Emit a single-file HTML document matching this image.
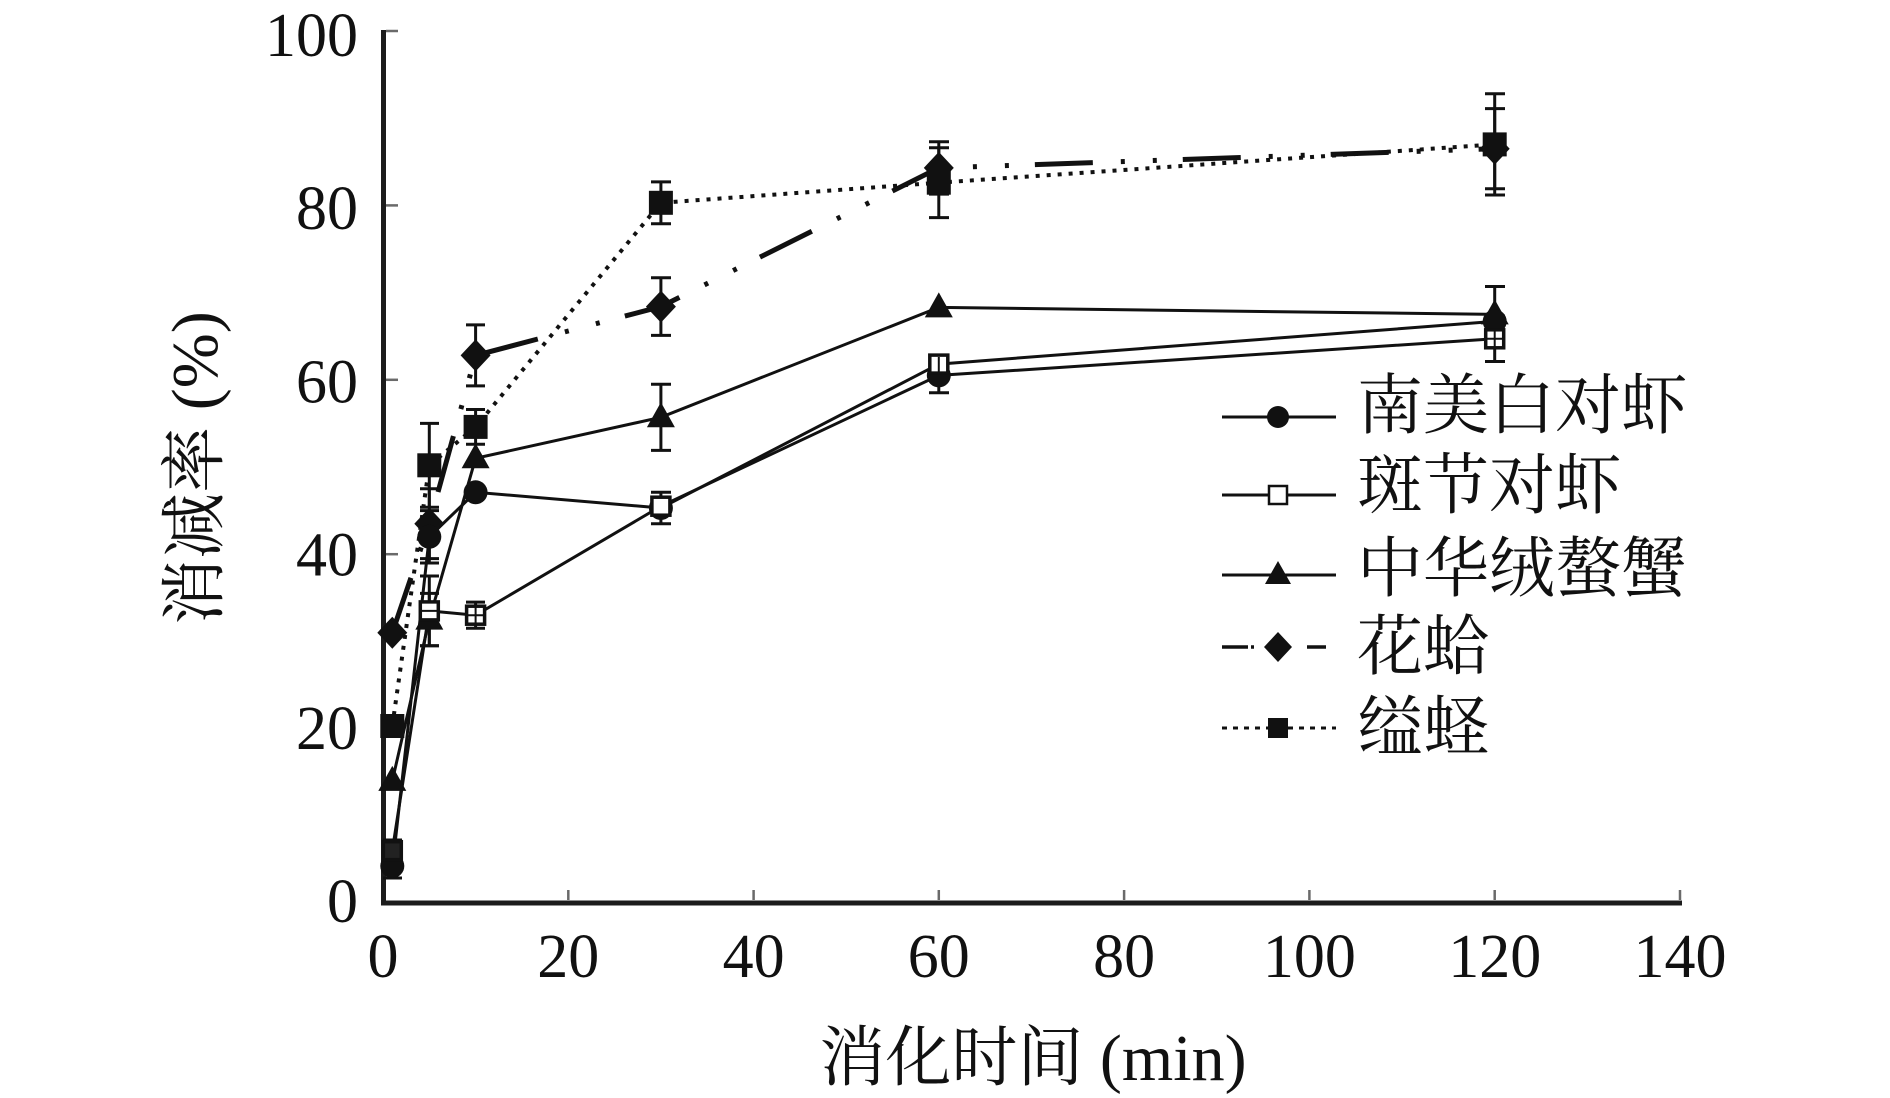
<!DOCTYPE html>
<html>
<head>
<meta charset="utf-8">
<style>
  html, body { margin: 0; padding: 0; background: #fff; }
  svg { display: block; }
  .tk { font-family: "Liberation Serif", "Noto Serif CJK SC", serif; font-size: 62px; fill: #111; }
  .cj { font-family: "Liberation Serif", "Noto Serif CJK SC", serif; font-size: 66px; fill: #111; }
</style>
</head>
<body>
<svg width="1890" height="1098" viewBox="0 0 1890 1098" xmlns="http://www.w3.org/2000/svg">
  <rect x="0" y="0" width="1890" height="1098" fill="#fff"/>

  <!-- ticks -->
  <g stroke="#6a6a6a" stroke-width="2.5">
    <line x1="386" y1="728.6" x2="398" y2="728.6"/>
    <line x1="386" y1="554.2" x2="398" y2="554.2"/>
    <line x1="386" y1="379.8" x2="398" y2="379.8"/>
    <line x1="386" y1="205.4" x2="398" y2="205.4"/>
    <line x1="386" y1="31" x2="398" y2="31"/>
    <line x1="568.3" y1="900" x2="568.3" y2="890"/>
    <line x1="753.6" y1="900" x2="753.6" y2="890"/>
    <line x1="938.8" y1="900" x2="938.8" y2="890"/>
    <line x1="1124.1" y1="900" x2="1124.1" y2="890"/>
    <line x1="1309.4" y1="900" x2="1309.4" y2="890"/>
    <line x1="1494.7" y1="900" x2="1494.7" y2="890"/>
    <line x1="1680" y1="900" x2="1680" y2="890"/>
  </g>
  <!-- axes -->
  <g stroke="#1c1c1c" stroke-width="5" fill="none">
    <line x1="383.5" y1="30" x2="383.5" y2="905"/>
    <line x1="381" y1="903" x2="1682" y2="903"/>
  </g>

  <!-- y tick labels -->
  <g class="tk" text-anchor="end">
    <text x="358" y="922">0</text>
    <text x="358" y="748.8">20</text>
    <text x="358" y="575.6">40</text>
    <text x="358" y="402.4">60</text>
    <text x="358" y="229.2">80</text>
    <text x="358" y="56">100</text>
  </g>
  <!-- x tick labels -->
  <g class="tk" text-anchor="middle">
    <text x="383" y="977">0</text>
    <text x="568.3" y="977">20</text>
    <text x="753.6" y="977">40</text>
    <text x="938.8" y="977">60</text>
    <text x="1124.1" y="977">80</text>
    <text x="1309.4" y="977">100</text>
    <text x="1494.7" y="977">120</text>
    <text x="1680" y="977">140</text>
  </g>

  <!-- axis titles -->
  <text class="cj" x="1033" y="1080" text-anchor="middle">消化时间 (min)</text>
  <text class="cj" transform="translate(217,468) rotate(-90)" text-anchor="middle">消减率 (%)</text>

  <!-- error bars -->
  <g stroke="#111" stroke-width="3" fill="none">
    <!-- S5 缢蛏 -->
    <path d="M429.3 423.4V507.2M420 423.4h19M420 507.2h19"/>
    <path d="M475.6 409.5V444.3M466 409.5h19M466 444.3h19"/>
    <path d="M660.9 181.9V223.7M651 181.9h20M651 223.7h20"/>
    <path d="M938.8 147.8V217.6M929 147.8h20M929 217.6h20"/>
    <path d="M1494.7 93.8V195M1485 93.8h20M1485 195h20"/>
    <!-- S4 花蛤 -->
    <path d="M429.3 488.8V558.6M420 488.8h19M420 558.6h19"/>
    <path d="M475.6 324.9V385.9M466 324.9h19M466 385.9h19"/>
    <path d="M660.9 277.8V335.4M651 277.8h20M651 335.4h20"/>
    <path d="M938.8 141.7V194.1M929 141.7h20M929 194.1h20"/>
    <path d="M1494.7 108.6V188.8M1485 108.6h20M1485 188.8h20"/>
    <!-- S3 -->
    <path d="M429.3 593.4V645.8M420 593.4h19M420 645.8h19"/>
    <path d="M660.9 384.2V450.4M651 384.2h20M651 450.4h20"/>
    <path d="M1494.7 286.5V342.3M1485 286.5h20M1485 342.3h20"/>
    <!-- S2 -->
    <path d="M429.3 576V645.8M420 576h19M420 645.8h19"/>
    <path d="M475.6 602.1V628.3M466 602.1h19M466 628.3h19"/>
    <path d="M938.8 358V392.8M929 358h20M929 392.8h20"/>
    <path d="M1494.7 316.1V361.5M1485 316.1h20M1485 361.5h20"/>
    <path d="M392.3 840V878M383 840h19M383 878h19"/>
    <!-- S1 -->
    <path d="M429.3 510.6V563M420 510.6h19M420 563h19"/>
    <path d="M660.9 492.3V523.7M651 492.3h20M651 523.7h20"/>
  </g>

  <!-- series lines -->
  <g fill="none" stroke="#111">
    <!-- S1 南美白对虾 -->
    <polyline stroke-width="3" points="392.3,868.1 429.3,536.8 475.6,492.3 660.9,508 938.8,364.1 1494.7,321.4"/>
    <!-- S2 斑节对虾 -->
    <polyline stroke-width="3" points="392.3,850.7 429.3,610.9 475.6,615.2 660.9,506.2 938.8,375.4 1494.7,338.8"/>
    <!-- S3 中华绒螯蟹 -->
    <polyline stroke-width="3" points="392.3,780.9 429.3,619.6 475.6,458.3 660.9,417.3 938.8,307.4 1494.7,314.4"/>
    <!-- S4 花蛤 dash-dot-dot -->
    <polyline stroke-width="5" stroke-dasharray="58 28 4 28 4 26" points="392.3,632.7 429.3,523.7 475.6,355.4 660.9,306.6 938.8,167.9 1494.7,148.7"/>
    <!-- S5 缢蛏 dotted -->
    <polyline stroke-width="4" stroke-dasharray="4 7" points="392.3,726 429.3,465.3 475.6,426.9 660.9,202.8 938.8,182.7 1494.7,144.4"/>
  </g>

  <!-- markers -->
  <g fill="#111">
    <!-- S5 filled squares -->
    <rect x="380.3" y="714" width="24" height="24"/>
    <rect x="417.3" y="453.3" width="24" height="24"/>
    <rect x="463.6" y="414.9" width="24" height="24"/>
    <rect x="648.9" y="190.8" width="24" height="24"/>
    <rect x="926.8" y="170.7" width="24" height="24"/>
    <rect x="1482.7" y="132.4" width="24" height="24"/>
    <!-- S4 diamonds -->
    <polygon points="392.3,616.7 407.3,632.7 392.3,648.7 377.3,632.7"/>
    <polygon points="429.3,507.7 444.3,523.7 429.3,539.7 414.3,523.7"/>
    <polygon points="475.6,339.4 490.6,355.4 475.6,371.4 460.6,355.4"/>
    <polygon points="660.9,290.6 675.9,306.6 660.9,322.6 645.9,306.6"/>
    <polygon points="938.8,151.9 953.8,167.9 938.8,183.9 923.8,167.9"/>
    <polygon points="1494.7,132.7 1509.7,148.7 1494.7,164.7 1479.7,148.7"/>
    <!-- S3 triangles -->
    <polygon points="392.3,765.9 378.3,790.9 406.3,790.9"/>
    <polygon points="429.3,604.6 415.3,629.6 443.3,629.6"/>
    <polygon points="475.6,443.3 461.6,468.3 489.6,468.3"/>
    <polygon points="660.9,402.3 646.9,427.3 674.9,427.3"/>
    <polygon points="938.8,292.4 924.8,317.4 952.8,317.4"/>
    <polygon points="1494.7,299.4 1480.7,324.4 1508.7,324.4"/>
    <!-- S1 circles -->
    <circle cx="392.3" cy="866" r="12"/>
    <circle cx="429.3" cy="536.8" r="12"/>
    <circle cx="475.6" cy="492.3" r="12"/>
    <circle cx="660.9" cy="508" r="12"/>
    <circle cx="938.8" cy="375.4" r="12"/>
    <circle cx="1494.7" cy="321.4" r="12"/>
  </g>
  <!-- S2 open squares -->
  <g fill="#fff" stroke="#111" stroke-width="3.5">
    <rect x="383.3" y="841.7" width="18" height="18" fill="#222"/>
    <rect x="420.3" y="601.9" width="18" height="18"/>
    <rect x="466.6" y="606.2" width="18" height="18"/>
    <rect x="651.9" y="497.2" width="18" height="18"/>
    <rect x="929.8" y="355.1" width="18" height="18"/>
    <rect x="1485.7" y="329.8" width="18" height="18"/>
  </g>
  <g stroke="#111" stroke-width="2">
    <line x1="475.6" y1="607" x2="475.6" y2="623"/>
    <line x1="938.8" y1="357" x2="938.8" y2="372"/>
    <line x1="1494.7" y1="331" x2="1494.7" y2="347"/>
    <line x1="421" y1="610.9" x2="438" y2="610.9"/>
    <line x1="467" y1="615.2" x2="484" y2="615.2"/>
    <line x1="1486" y1="338.8" x2="1503" y2="338.8"/>
  </g>

  <!-- legend -->
  <g stroke="#111" fill="none">
    <line x1="1222" y1="417" x2="1336" y2="417" stroke-width="3"/>
    <line x1="1222" y1="495" x2="1336" y2="495" stroke-width="3"/>
    <line x1="1222" y1="575" x2="1336" y2="575" stroke-width="3"/>
    <path d="M1222 647H1248M1251 647H1254M1307 647H1326" stroke-width="3.5"/>
    <line x1="1222" y1="728" x2="1336" y2="728" stroke-width="3" stroke-dasharray="5 6"/>
  </g>
  <g fill="#111">
    <circle cx="1278" cy="417" r="11"/>
    <polygon points="1278,561 1265,584 1291,584"/>
    <polygon points="1278,632 1292,647 1278,662 1264,647"/>
    <rect x="1268" y="718" width="20" height="20"/>
  </g>
  <rect x="1269" y="486" width="18" height="18" fill="#fff" stroke="#111" stroke-width="2.5"/>

  <g class="cj">
    <text x="1357" y="428">南美白对虾</text>
    <text x="1357" y="508">斑节对虾</text>
    <text x="1357" y="591">中华绒螯蟹</text>
    <text x="1357" y="669">花蛤</text>
    <text x="1357" y="750">缢蛏</text>
  </g>
</svg>
</body>
</html>
